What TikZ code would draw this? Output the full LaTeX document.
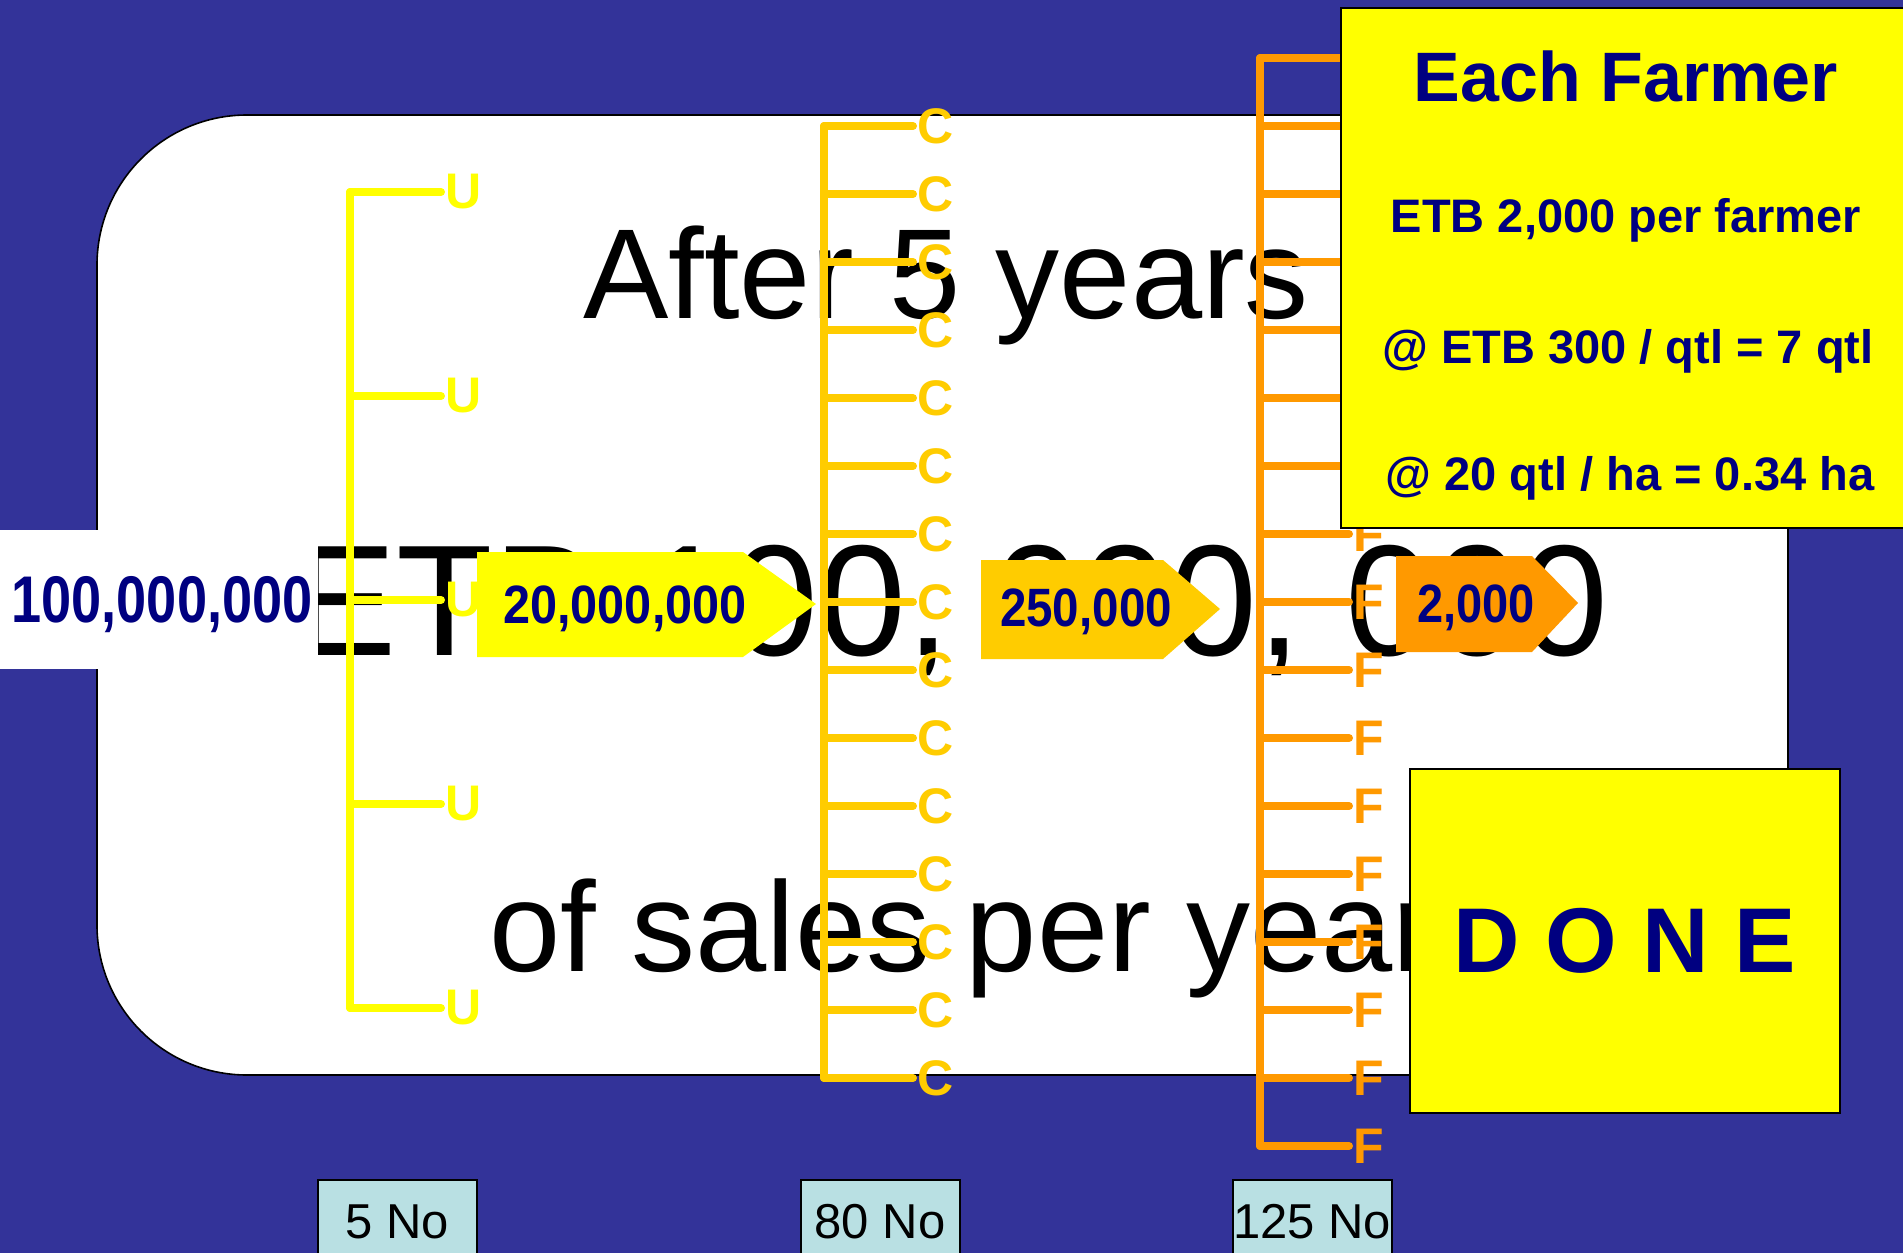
\documentclass[tikz,border=0pt]{standalone}
\usepackage{fontspec}
\usepackage{graphicx}
\setmainfont{Liberation Sans}
\definecolor{slide}{RGB}{51,51,153}
\definecolor{navy}{RGB}{0,0,128}
\definecolor{uyel}{RGB}{255,255,0}
\definecolor{cgold}{RGB}{255,204,0}
\definecolor{forange}{RGB}{255,153,0}
\definecolor{pale}{RGB}{185,224,227}
\tikzset{
  bigline/.style={inner sep=0pt, anchor=base west, font=\fontsize{64}{70}\selectfont},
  spine/.style={line width=4pt, line cap=round, line join=round},
  tiplab/.style={inner sep=0pt, anchor=west, font=\bfseries\fontsize{25}{25}\selectfont},
  money/.style={text=navy, inner sep=0pt, anchor=base, font=\bfseries\fontsize{27}{27}\selectfont},
  farmtxt/.style={text=navy, inner sep=0pt, anchor=base, font=\bfseries\fontsize{23.5}{24}\selectfont},
  countbox/.style={draw=black, line width=1pt, fill=pale, minimum width=79.5pt, minimum height=42pt, inner sep=0pt, font=\fontsize{24.5}{25}\selectfont}
}
\begin{document}
\begin{tikzpicture}[x=0.5pt,y=-0.5pt]
\useasboundingbox (0,0) rectangle (1903,1253);
\fill[slide] (0,0) rectangle (1903,1253);
% white card and its text
\draw[fill=white, line width=0.8pt, rounded corners=75pt] (97,115) rectangle (1788,1075);
\node[bigline] (yrs) at (583,318) {After 5 years};
\node[bigline, font=\fontsize{79}{85}\selectfont] (etb) at (291,655) {ETB 100, 000, 000};
\node[bigline] (sales) at (489,971) {of sales per year};
% fund
\fill[white] (0,530) rectangle (318,669);
\node[money, font=\bfseries\fontsize{33}{33}\selectfont] (fund) at (162,622) {\scalebox{0.82}[1]{100,000,000}};
% unions
\foreach \k in {0,...,4}{
  \coordinate (us\k) at (350,{192+204*\k});
  \node[tiplab, text=uyel] (u\k) at (445,{192+204*\k}) {U};
}
\draw[spine, uyel] (us0) -- (us4);
\foreach \k in {0,...,4} \draw[spine, uyel] (us\k) -- ([xshift=-2pt]u\k.west);
% cooperatives
\foreach \k in {0,...,14}{
  \coordinate (cs\k) at (824,{126+68*\k});
  \node[tiplab, text=cgold] (c\k) at (917,{126+68*\k}) {C};
}
\draw[spine, cgold] (cs0) -- (cs14);
\foreach \k in {0,...,14} \draw[spine, cgold] (cs\k) -- ([xshift=-2pt]c\k.west);
% farmers
\foreach \k in {0,...,16}{
  \coordinate (fs\k) at (1260,{58+68*\k});
  \node[tiplab, text=forange] (f\k) at (1353,{58+68*\k}) {F};
}
\draw[spine, forange] (fs0) -- (fs16);
\foreach \k in {0,...,16} \draw[spine, forange] (fs\k) -- ([xshift=-2pt]f\k.west);
% shares
\fill[uyel] (477,552) -- (743,552) -- (816,604) -- (743,657) -- (477,657) -- cycle;
\node[money] (perunion) at (625,623) {\scalebox{0.9}[1]{20,000,000}};
\fill[cgold] (981,560) -- (1163,560) -- (1220,609) -- (1163,659) -- (981,659) -- cycle;
\node[money] (percoop) at (1086,626) {\scalebox{0.88}[1]{250,000}};
\fill[forange] (1396,556) -- (1532,556) -- (1578,603) -- (1532,652) -- (1396,652) -- cycle;
\node[money] (perfarm) at (1476,622) {\scalebox{0.87}[1]{2,000}};
% each farmer
\draw[fill=uyel, line width=1.2pt] (1341,8) rectangle (1915,528);
\node[farmtxt, font=\bfseries\fontsize{35}{35}\selectfont] (head) at (1626,101) {Each Farmer};
\node[farmtxt] (line1) at (1626,232) {ETB 2,000 per farmer};
\node[farmtxt] (line2) at (1628,363) {@ ETB 300 / qtl = 7 qtl};
\node[farmtxt] (line3) at (1630,490) {@ 20 qtl / ha = 0.34 ha};
\node[draw=black, fill=uyel, line width=1.2pt, minimum width=215pt, minimum height=172pt,
  text=navy, font=\bfseries\fontsize{46}{46}\selectfont] (done) at (1625,941) {D O N E};
% counts
\node[countbox] (n5) at (397,1222) {5 No};
\node[countbox] (n80) at (880,1222) {80 No};
\node[countbox] (n125) at (1312,1222) {125 No};
\end{tikzpicture}
\end{document}
